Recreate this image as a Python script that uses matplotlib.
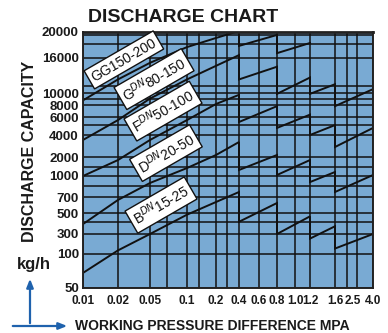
import numpy as np
import matplotlib
matplotlib.use("Agg")
import matplotlib.pyplot as plt
from matplotlib.ticker import FixedLocator, FixedFormatter, NullFormatter

plt.rcParams["font.family"] = ["Liberation Sans", "DejaVu Sans"]
plt.rcParams["mathtext.fontset"] = "custom"
plt.rcParams["mathtext.rm"] = "Liberation Sans"

# ---- axis tick labels -------------------------------------------------------
x_ticks = [0.01, 0.02, 0.05, 0.1, 0.2, 0.4, 0.6, 0.8, 1.0, 1.2, 1.6, 2.5, 4.0]
x_tick_labels = ["0.01", "0.02", "0.05", "0.1", "0.2", "0.4", "0.6", "0.8",
                 "1.0", "1.2", "1.6", "2.5", "4.0"]
y_ticks = [50, 100, 300, 500, 700, 1000, 2000, 4000, 6000, 8000, 10000, 16000, 20000]
y_tick_labels = [str(v) for v in y_ticks]

# ---- chart grid (nomogram paper) -------------------------------------------
x_grid = [0.01, 0.02, 0.05, 0.07, 0.1, 0.15, 0.2, 0.3, 0.4, 0.6, 0.8, 1.0,
          1.2, 1.6, 2.0, 3.0, 4.0]
x_grid_pos = [0, 35, 67, 84, 104, 116, 133, 144, 156, 176, 194, 212, 227,
              252, 264, 274, 290]
y_grid_extra = [400, 850, 1400, 5000, 9000, 11000, 18000, 19500]
y_scale_pos = [0, 34, 54, 75, 91, 112, 131, 153, 171, 183, 195, 230, 256]

# ---- discharge curves: pressure (MPa) / capacity (kg/h), one list per range
B_p = [[0.01, 0.02, 0.05, 0.1, 0.2, 0.4], [0.4, 0.8], [0.8, 1.2], [1.2, 1.6], [1.6, 4.0]]
B_q = [[68, 122, 300, 480, 630, 762], [404, 617], [300, 461], [233, 362], [135, 300]]

D_p = [[0.01, 0.02, 0.05, 0.1, 0.2, 0.4], [0.4, 0.8], [0.8, 1.2], [1.2, 1.6], [1.6, 4.0]]
D_q = [[382, 658, 888, 1337, 2130, 3206], [1245, 2130], [1037, 1790], [902, 1157], [762, 1037]]

F_p = [[0.01, 0.02, 0.05, 0.1, 0.2, 0.4], [0.4, 0.8], [0.8, 1.2], [1.2, 1.6], [1.6, 4.0]]
F_q = [[1000, 1790, 3420, 5600, 8150, 9660], [5360, 7780], [4690, 6350], [4000, 5000], [2740, 4690]]

G_p = [[0.01, 0.02, 0.05, 0.1, 0.2, 0.4], [0.4, 0.8], [0.8, 1.2], [1.2, 1.6], [1.6, 4.0]]
G_q = [[3420, 5600, 9020, 12000, 14400, 16400], [12000, 14230], [9840, 12310], [9840, 11250], [7780, 10530]]

GG_p = [[0.01, 0.02, 0.05, 0.1, 0.2, 0.37, 0.4], [0.4, 0.8], [0.8, 1.2]]
GG_q = [[8720, 12000, 15000, 17570, 19000, 20000, 20000], [17750, 19500], [16680, 18200]]

curve_labels = ["GG150-200", "G$^{DN}$80-150", "F$^{DN}$50-100", "D$^{DN}$20-50", "B$^{DN}$15-25"]
label_pos = [(0.141, 0.891), (0.245, 0.816), (0.276, 0.691), (0.286, 0.527), (0.269, 0.324)]


def make_scale(vals, pos):
    lv = np.log10(vals)
    pos = np.asarray(pos, float)

    def fwd(v):
        v = np.clip(np.asarray(v, float), 1e-12, None)
        return np.interp(np.log10(v), lv, pos)

    def inv(p):
        return 10 ** np.interp(np.asarray(p, float), pos, lv)

    return fwd, inv


fig = plt.figure(figsize=(3.88, 3.33), dpi=100)
ax = fig.add_axes([83 / 388, 45 / 333, 290 / 388, 256 / 333])
ax.set_facecolor("#79aad3")

ax.set_xscale("function", functions=make_scale(x_grid, x_grid_pos))
ax.set_yscale("function", functions=make_scale(y_ticks, y_scale_pos))
ax.set_xlim(0.01, 4.0)
ax.set_ylim(50, 20000)

ax.xaxis.remove_overlapping_locs = False
ax.yaxis.remove_overlapping_locs = False
ax.xaxis.set_major_locator(FixedLocator(x_ticks))
ax.xaxis.set_major_formatter(FixedFormatter(x_tick_labels))
ax.xaxis.set_minor_locator(FixedLocator(x_grid))
ax.xaxis.set_minor_formatter(NullFormatter())
ax.yaxis.set_major_locator(FixedLocator(y_ticks))
ax.yaxis.set_major_formatter(FixedFormatter(y_tick_labels))
ax.yaxis.set_minor_locator(FixedLocator(y_ticks + y_grid_extra))
ax.yaxis.set_minor_formatter(NullFormatter())

ax.tick_params(which="both", length=0)
ax.tick_params(axis="x", which="major", pad=5, labelsize=8.5)
ax.tick_params(axis="y", which="major", pad=3, labelsize=9.5)
for lab in ax.get_xticklabels() + ax.get_yticklabels():
    lab.set_fontweight("bold")
    lab.set_color("#1a1a1a")

ax.grid(True, which="minor", color="#111111", lw=1.1)
ax.grid(False, which="major")
for sp in ax.spines.values():
    sp.set_color("#222222")
    sp.set_linewidth(1.4)
ax.spines["top"].set_linewidth(2.0)

for ps, qs in [(B_p, B_q), (D_p, D_q), (F_p, F_q), (G_p, G_q), (GG_p, GG_q)]:
    px = np.concatenate([np.asarray(s, float) for s in ps])
    qy = np.concatenate([np.asarray(s, float) for s in qs])
    ax.plot(px, qy, color="#111111", lw=1.4, solid_joinstyle="miter")

for text, (lx, ly) in zip(curve_labels, label_pos):
    ax.text(lx, ly, text, transform=ax.transAxes, rotation=30, ha="center",
            va="center", fontsize=10, color="#111111", rotation_mode="anchor",
            bbox=dict(boxstyle="square,pad=0.25", fc="white", ec="#111111", lw=1.0))

fig.text(183 / 388, 1 - 18 / 333, "DISCHARGE CHART", ha="center", va="center",
         fontsize=14, fontweight="bold", color="#1a1a1a")
fig.text(30 / 388, 1 - 151 / 333, "DISCHARGE CAPACITY", ha="center", va="center",
         rotation=90, fontsize=11.5, fontweight="bold", color="#1a1a1a")
fig.text(34 / 388, 1 - 264 / 333, "kg/h", ha="center", va="center",
         fontsize=12, fontweight="bold", color="#1a1a1a")
fig.text(75 / 388, 1 - 326 / 333, "WORKING PRESSURE DIFFERENCE MPA", ha="left",
         va="center", fontsize=10, fontweight="bold", color="#1a1a1a")

arrow_blue = "#1f62ad"
ax.annotate("", xy=(30, 333 - 276), xytext=(30, 333 - 326), xycoords="figure pixels",
            textcoords="figure pixels",
            arrowprops=dict(arrowstyle="-|>,head_length=0.5,head_width=0.2",
                            color=arrow_blue, lw=1.6))
ax.annotate("", xy=(70, 333 - 326), xytext=(10, 333 - 326), xycoords="figure pixels",
            textcoords="figure pixels",
            arrowprops=dict(arrowstyle="-|>,head_length=0.5,head_width=0.2",
                            color=arrow_blue, lw=1.6))

fig.savefig("out.png", dpi=100)
